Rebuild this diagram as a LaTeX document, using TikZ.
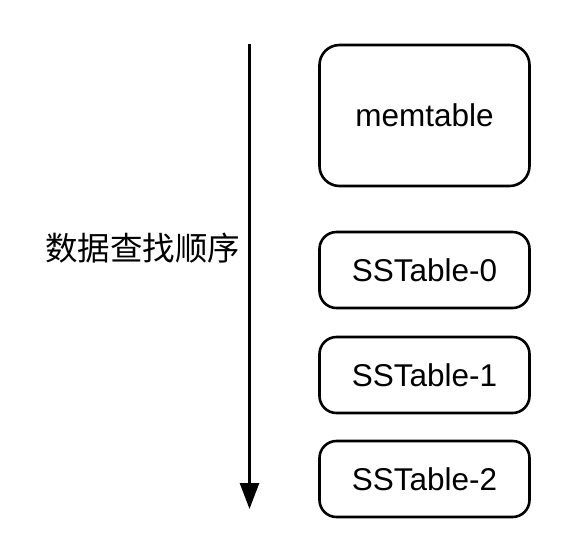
\documentclass[tikz,border=0pt]{standalone}
\usepackage{fontspec}
\setmainfont{Liberation Sans}
\newfontfamily\cjk{Noto Sans CJK SC}
\usetikzlibrary{arrows.meta}
\begin{document}
\begin{tikzpicture}[x=1pt,y=-1pt,
  tbl/.style={draw=black, line width=2.6pt, rounded corners=17pt, minimum width=210pt,
    inner sep=0pt, font=\fontsize{31.5}{36}\selectfont, text=black},
  order/.style={line width=2.6pt, -{Triangle[length=26pt,width=19pt]}}]
\useasboundingbox (0,0) rectangle (586,558);
\node[tbl, minimum height=141pt, rounded corners=20pt] (mem) at (424.5,115.5) {memtable};
\node[tbl, minimum height=76pt] (s0) at (424.5,270) {SSTable-0};
\node[tbl, minimum height=76pt] (s1) at (424.5,375) {SSTable-1};
\node[tbl, minimum height=76pt] (s2) at (424.5,479) {SSTable-2};
\coordinate (top) at (249.5,44);
\coordinate (bot) at (249.5,509);
\draw[order] (top) -- (bot);
\node[font=\cjk\fontsize{32.5}{36}\selectfont, anchor=east] (lbl) at (244,248) {数据查找顺序};
\end{tikzpicture}
\end{document}
